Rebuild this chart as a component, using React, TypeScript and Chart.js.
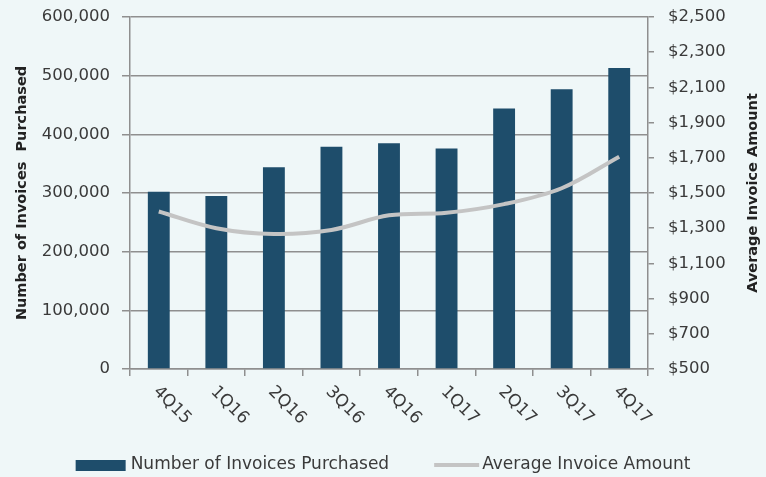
import React, { useEffect, useRef } from 'react';
import { Chart, registerables } from 'chart.js';

Chart.register(...registerables);

const categories = ['4Q15', '1Q16', '2Q16', '3Q16', '4Q16', '1Q17', '2Q17', '3Q17', '4Q17'];
const invoicesPurchased = [302000, 295000, 344000, 379000, 385000, 376000, 444000, 477000, 513000];
const avgInvoiceAmount = [1395, 1300, 1267, 1290, 1373, 1388, 1437, 1527, 1706];
const seriesNames = ['Number of Invoices Purchased', 'Average Invoice Amount'];
const leftTitle = 'Number of Invoices  Purchased';
const rightTitle = 'Average Invoice Amount';

const FONT = '"DejaVu Sans", sans-serif';
const BG = '#eff7f8';
const BAR = '#1e4d6b';
const LINE = '#c4c4c4';
const GRID = '#8f8f8f';
const TEXT = '#3a3a3a';

const customText = {
  id: 'customText',
  beforeDraw(chart: any) {
    const ctx = chart.ctx;
    ctx.save();
    ctx.fillStyle = BG;
    ctx.fillRect(0, 0, chart.width, chart.height);
    ctx.restore();
  },
  afterDraw(chart: any) {
    const ctx = chart.ctx;
    const xs = chart.scales.x;
    const area = chart.chartArea;
    ctx.save();
    // x labels rotated clockwise
    ctx.fillStyle = TEXT;
    ctx.font = `17px ${FONT}`;
    ctx.textAlign = 'left';
    ctx.textBaseline = 'middle';
    categories.forEach((c, i) => {
      const px = xs.getPixelForValue(i);
      ctx.save();
      ctx.translate(px - 3, area.bottom + 20);
      ctx.rotate(Math.PI / 4);
      ctx.fillText(c, 0, 0);
      ctx.restore();
    });
    // axis titles
    ctx.font = `bold 14.5px ${FONT}`;
    ctx.fillStyle = '#222222';
    ctx.textAlign = 'center';
    const cy = (area.top + area.bottom) / 2;
    const titles: [number, string][] = [[22, leftTitle], [753, rightTitle]];
    titles.forEach(([tx, t]) => {
      ctx.save();
      ctx.translate(tx, cy);
      ctx.rotate(-Math.PI / 2);
      ctx.fillText(t, 0, 0);
      ctx.restore();
    });
    // legend
    ctx.font = `17px ${FONT}`;
    ctx.fillStyle = TEXT;
    ctx.textAlign = 'left';
    const ds = chart.data.datasets;
    const w1 = ctx.measureText(ds[0].label).width;
    const w2 = ctx.measureText(ds[1].label).width;
    const total = 50 + 5 + w1 + 45 + 45 + 3 + w2;
    let lx = 383 - total / 2;
    const ly = 465;
    ctx.fillStyle = ds[0].backgroundColor;
    ctx.fillRect(lx, ly - 5, 50, 11);
    lx += 55;
    ctx.fillStyle = TEXT;
    ctx.fillText(ds[0].label, lx, ly);
    lx += w1 + 45;
    ctx.strokeStyle = ds[1].borderColor;
    ctx.lineWidth = 4;
    ctx.beginPath();
    ctx.moveTo(lx, ly);
    ctx.lineTo(lx + 45, ly);
    ctx.stroke();
    lx += 48;
    ctx.fillText(ds[1].label, lx, ly);
    ctx.restore();
  },
};

const zeroPad = (s: any) => {
  s.paddingTop = 0;
  s.paddingBottom = 0;
};

export default function App() {
  const ref = useRef<HTMLCanvasElement | null>(null);
  useEffect(() => {
    document.body.style.margin = '0';
    document.body.style.background = BG;
    const canvas = ref.current;
    if (!canvas) return;
    const tickFont = { family: FONT, size: 16.5 };
    const chart = new Chart(canvas, {
      type: 'bar',
      data: {
        labels: categories,
        datasets: [
          {
            type: 'bar',
            label: seriesNames[0],
            data: invoicesPurchased,
            backgroundColor: BAR,
            yAxisID: 'y',
            order: 2,
            categoryPercentage: 1,
            barPercentage: 0.38,
          },
          {
            type: 'line',
            label: seriesNames[1],
            data: avgInvoiceAmount,
            borderColor: LINE,
            backgroundColor: LINE,
            borderWidth: 4,
            pointRadius: 0,
            tension: 0.35,
            yAxisID: 'y1',
            order: 1,
          },
        ] as any,
      },
      options: {
        responsive: false,
        animation: false,
        devicePixelRatio: 1,
        layout: { padding: { top: 17, left: 0, right: 0, bottom: 0 } },
        plugins: { legend: { display: false }, tooltip: { enabled: false } },
        scales: {
          x: {
            offset: true,
            grid: { offset: true, drawOnChartArea: false, drawTicks: true, tickLength: 7, color: GRID, lineWidth: 1.5 },
            border: { display: true, color: GRID, width: 1.5 },
            ticks: { color: 'transparent', font: tickFont, maxRotation: 0, autoSkip: false },
            afterFit: (s: any) => { s.height = 108; s.paddingLeft = 0; s.paddingRight = 0; },
          },
          y: {
            position: 'left',
            min: 0,
            max: 600000,
            ticks: {
              stepSize: 100000,
              color: TEXT,
              font: tickFont,
              padding: 12,
              callback: (v: any) => Number(v).toLocaleString('en-US'),
            },
            grid: { color: GRID, lineWidth: 1.5, tickLength: 8 },
            border: { color: GRID, width: 1.5 },
            afterFit: (s: any) => { s.width = 130; zeroPad(s); },
          },
          y1: {
            position: 'right',
            min: 500,
            max: 2500,
            ticks: {
              stepSize: 200,
              color: TEXT,
              font: tickFont,
              padding: 14,
              callback: (v: any) => '$' + Number(v).toLocaleString('en-US'),
            },
            grid: { drawOnChartArea: false, color: GRID, lineWidth: 1.5, tickLength: 6 },
            border: { color: GRID, width: 1.5 },
            afterFit: (s: any) => { s.width = 118; zeroPad(s); },
          },
        },
      } as any,
      plugins: [customText],
    });
    return () => chart.destroy();
  }, []);
  return (
    <div style={{ width: 766, height: 477, background: BG }}>
      <canvas ref={ref} width={766} height={477} style={{ display: 'block' }} />
    </div>
  );
}
